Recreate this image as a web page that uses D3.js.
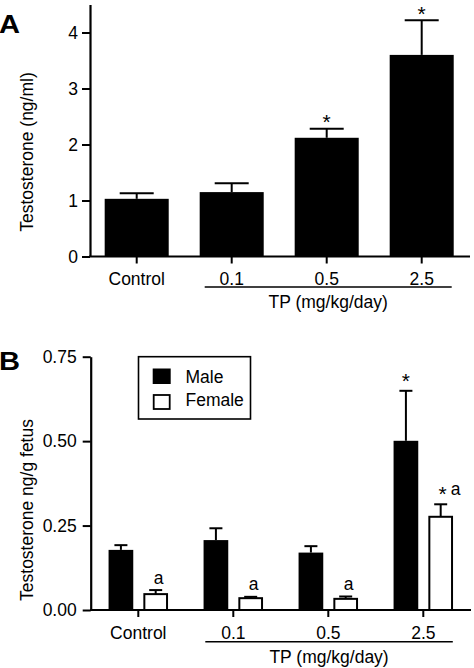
<!DOCTYPE html>
<html>
<head>
<meta charset="utf-8">
<script src="https://cdn.jsdelivr.net/npm/d3@7"></script>
<style>
  html, body { margin: 0; padding: 0; background: #fff; }
  svg { display: block; }
  text { font-family: "Liberation Sans", Arial, Helvetica, sans-serif; fill: #000; }
</style>
</head>
<body>
<svg id="chart" width="474" height="668"></svg>
<script>
// ---------- Data ----------
const categories = ["Control", "0.1", "0.5", "2.5"];

// Panel A: serum testosterone (ng/ml)
const meanA = [1.03, 1.15, 2.12, 3.60];
const semA  = [0.10, 0.16, 0.16, 0.62];
const markA = ["", "", "*", "*"];
const ticksA = [0, 1, 2, 3, 4];

// Panel B: fetal testosterone (ng/g fetus)
const seriesB = ["Male", "Female"];
const maleB      = [0.178, 0.207, 0.170, 0.501];
const maleSemB   = [0.014, 0.035, 0.019, 0.148];
const femaleB    = [0.047, 0.035, 0.033, 0.276];
const femaleSemB = [0.012, 0.004, 0.007, 0.037];
const maleMarkB   = ["", "", "", "*"];
const femaleMarkB = ["a", "a", "a", "*a"];
const ticksB = [0, 0.25, 0.50, 0.75];

const svg = d3.select("#chart");
const FS = 17.5;

function styleAxis(g) {
  g.attr("font-size", null).attr("font-family", null);
  g.selectAll("path.domain").attr("stroke", "#000").attr("stroke-width", 2.2);
  g.selectAll(".tick line").attr("stroke", "#000").attr("stroke-width", 2);
  g.selectAll(".tick text").style("font-size", FS + "px").attr("fill", "#000")
    .style("font-family", '"Liberation Sans", Arial, sans-serif');
}

function drawErr(g, cx, yTop, yVal, capW) {
  g.append("line").attr("x1", cx).attr("x2", cx).attr("y1", yVal).attr("y2", yTop)
    .attr("stroke", "#000").attr("stroke-width", 2);
  g.append("line").attr("x1", cx - capW / 2).attr("x2", cx + capW / 2).attr("y1", yTop).attr("y2", yTop)
    .attr("stroke", "#000").attr("stroke-width", 2);
}

// ---------- Panel A ----------
{
  const g = svg.append("g");
  const x = d3.scaleBand().domain(categories).range([89.2, 469.2]).paddingInner(0.326).paddingOuter(0.163);
  const y = d3.scaleLinear().domain([0, 4.5]).range([256.5, 4.5]);

  categories.forEach((c, i) => {
    const cx = x(c) + x.bandwidth() / 2;
    const yTop = y(meanA[i] + semA[i]);
    drawErr(g, cx, yTop, y(meanA[i]), 34);
    g.append("rect").attr("x", x(c)).attr("y", y(meanA[i]))
      .attr("width", x.bandwidth()).attr("height", y(0) - y(meanA[i])).attr("fill", "#000");
    if (markA[i].includes("*")) {
      g.append("text").attr("x", cx).attr("y", yTop + 0.5).attr("text-anchor", "middle")
        .style("font-size", "21px").text("*");
    }
  });

  const ya = g.append("g").attr("transform", "translate(90,0)")
    .call(d3.axisLeft(y).tickValues(ticksA).tickFormat(d3.format("d")).tickSize(8).tickSizeOuter(0).tickPadding(4));
  styleAxis(ya);
  const xa = g.append("g").attr("transform", "translate(0,256.5)")
    .call(d3.axisBottom(x).tickSize(7).tickSizeOuter(0).tickPadding(9.5));
  styleAxis(xa);
  xa.select("path.domain").attr("d", "M89,0H470");

  const lx0 = x("0.1") + x.bandwidth() / 2 - 27;
  const lx1 = x("2.5") + x.bandwidth() / 2 + 30;
  g.append("line").attr("x1", lx0).attr("x2", lx1).attr("y1", 287).attr("y2", 287)
    .attr("stroke", "#000").attr("stroke-width", 1.6);
  g.append("text").attr("x", (lx0 + lx1) / 2).attr("y", 307.5).attr("text-anchor", "middle")
    .style("font-size", FS + "px").text("TP (mg/kg/day)");

  g.append("text").attr("transform", "translate(32.5,152) rotate(-90)").attr("text-anchor", "middle")
    .style("font-size", FS + "px").text("Testosterone (ng/ml)");
  g.append("text").attr("x", -1).attr("y", 33.3).style("font-size", "26px").attr("font-weight", "bold")
    .attr("transform", "scale(1.12,1)").text("A");
}

// ---------- Panel B ----------
{
  const g = svg.append("g");
  const x0 = d3.scaleBand().domain(categories).range([90.8, 470.8]).paddingInner(0.374).paddingOuter(0.187);
  const x1 = d3.scaleBand().domain(seriesB).range([0, x0.bandwidth()]).paddingInner(0.29).paddingOuter(0);
  const y = d3.scaleLinear().domain([0, 0.75]).range([610, 356.7]);

  categories.forEach((c, i) => {
    const mx = x0(c) + x1("Male");
    const mcx = mx + x1.bandwidth() / 2;
    const mTop = y(maleB[i] + maleSemB[i]);
    drawErr(g, mcx, mTop, y(maleB[i]), 13);
    g.append("rect").attr("x", mx).attr("y", y(maleB[i]))
      .attr("width", x1.bandwidth()).attr("height", y(0) - y(maleB[i])).attr("fill", "#000");
    if (maleMarkB[i].includes("*")) {
      g.append("text").attr("x", mcx).attr("y", mTop - 3).attr("text-anchor", "middle")
        .style("font-size", "21px").text("*");
    }
    const fx = x0(c) + x1("Female");
    const fcx = fx + x1.bandwidth() / 2;
    const fTop = y(femaleB[i] + femaleSemB[i]);
    drawErr(g, fcx, fTop, y(femaleB[i]), 13);
    g.append("rect").attr("x", fx + 1).attr("y", y(femaleB[i]))
      .attr("width", x1.bandwidth() - 2).attr("height", y(0) - y(femaleB[i]))
      .attr("fill", "#fff").attr("stroke", "#000").attr("stroke-width", 2);
    const m = femaleMarkB[i];
    if (m.includes("*") && m.includes("a")) {
      g.append("text").attr("x", fcx + 2).attr("y", fTop - 3.5).attr("text-anchor", "middle")
        .style("font-size", "21px").text("*");
      g.append("text").attr("x", fcx + 15).attr("y", fTop - 9).attr("text-anchor", "middle")
        .style("font-size", FS + "px").text("a");
    } else if (m.includes("a")) {
      g.append("text").attr("x", fcx + 3).attr("y", fTop - 6.5).attr("text-anchor", "middle")
        .style("font-size", FS + "px").text("a");
    }
  });

  const ya = g.append("g").attr("transform", "translate(90.7,0)")
    .call(d3.axisLeft(y).tickValues(ticksB).tickFormat(d3.format(".2f")).tickSize(8).tickSizeOuter(0).tickPadding(6));
  styleAxis(ya);
  const xa = g.append("g").attr("transform", "translate(0,610)")
    .call(d3.axisBottom(x0).tickSize(7).tickSizeOuter(0).tickPadding(10));
  styleAxis(xa);
  xa.select("path.domain").attr("d", "M90,0H471");

  const lx0 = x0("0.1") + x0.bandwidth() / 2 - 28;
  const lx1 = x0("2.5") + x0.bandwidth() / 2 + 29.5;
  g.append("line").attr("x1", lx0).attr("x2", lx1).attr("y1", 641.7).attr("y2", 641.7)
    .attr("stroke", "#000").attr("stroke-width", 1.6);
  g.append("text").attr("x", (lx0 + lx1) / 2).attr("y", 662.5).attr("text-anchor", "middle")
    .style("font-size", FS + "px").text("TP (mg/kg/day)");

  g.append("text").attr("transform", "translate(32.5,510) rotate(-90)").attr("text-anchor", "middle")
    .style("font-size", FS + "px").text("Testosterone ng/g fetus");
  g.append("text").attr("x", -1).attr("y", 370).style("font-size", "26px").attr("font-weight", "bold")
    .attr("transform", "scale(1.12,1)").text("B");

  const lg = g.append("g");
  lg.append("rect").attr("x", 138.5).attr("y", 356.7).attr("width", 112).attr("height", 62.3)
    .attr("fill", "#fff").attr("stroke", "#000").attr("stroke-width", 1.6);
  const legY = [368.5, 394.5];
  const legBase = [383.3, 405.5];
  seriesB.forEach((s, i) => {
    if (i === 0) {
      lg.append("rect").attr("x", 152.7).attr("y", legY[i]).attr("width", 18).attr("height", 15.5).attr("fill", "#000");
    } else {
      lg.append("rect").attr("x", 153.7).attr("y", legY[i] + 0.5).attr("width", 16).attr("height", 14)
        .attr("fill", "#fff").attr("stroke", "#000").attr("stroke-width", 1.8);
    }
    lg.append("text").attr("x", 185.5).attr("y", legBase[i]).style("font-size", FS + "px").text(s);
  });
}
</script>
</body>
</html>
